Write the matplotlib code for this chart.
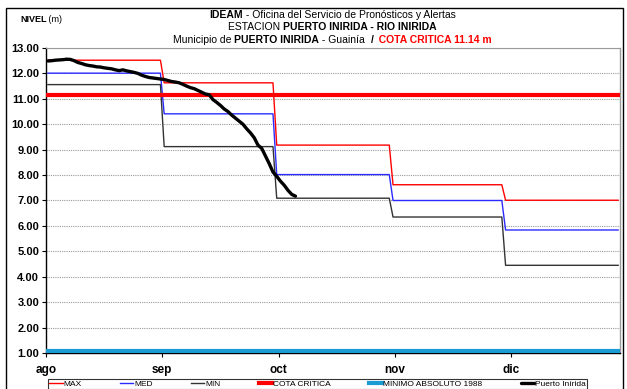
import numpy as np
import matplotlib
matplotlib.use("Agg")
import matplotlib.pyplot as plt
from matplotlib import font_manager
from matplotlib.offsetbox import TextArea, HPacker, AnchoredOffsetbox
from matplotlib.patches import Rectangle

# ---- data -------------------------------------------------------------
months = ["ago", "sep", "oct", "nov", "dic"]
days_in_month = [31, 30, 31, 30, 31]

nivel_max = [12.52, 11.63, 9.18, 7.62, 7.01]
nivel_med = [12.01, 10.41, 8.02, 7.00, 5.84]
nivel_min = [11.56, 9.12, 7.09, 6.35, 4.45]

cota_critica = 11.14
minimo_absoluto_1988 = 1.07

# daily observed levels, Puerto Inírida (from 1 Aug)
puerto_inirida = [
    12.49, 12.50, 12.52, 12.53, 12.54, 12.56, 12.55, 12.50, 12.43, 12.39,
    12.34, 12.31, 12.29, 12.26, 12.25, 12.22, 12.20, 12.18, 12.14, 12.11,
    12.14, 12.10, 12.07, 12.04, 12.00, 11.93, 11.88, 11.84, 11.82, 11.80,
    11.78, 11.76, 11.72, 11.68, 11.66, 11.63, 11.57, 11.50, 11.44, 11.40,
    11.33, 11.26, 11.19, 11.16, 10.97, 10.86, 10.74, 10.60, 10.50, 10.36,
    10.24, 10.12, 10.00, 9.82, 9.66, 9.47, 9.18, 9.05, 8.75, 8.45,
    8.12, 7.95, 7.76, 7.60, 7.40, 7.24, 7.17,
]

# ---- fonts ------------------------------------------------------------
available = {f.name for f in font_manager.fontManager.ttflist}
narrow = "Liberation Sans Narrow" if "Liberation Sans Narrow" in available else "Liberation Sans"
regular = "Liberation Sans"

# ---- figure -----------------------------------------------------------
W, H = 627, 389
fig = plt.figure(figsize=(W / 100, H / 100), dpi=100)
fig.patch.set_facecolor("white")

def fx(px):
    return px / W

def fy(py):
    return 1 - py / H

ax = fig.add_axes([fx(46), fy(353), fx(620) - fx(46), fy(48) - fy(353)])

n_days = sum(days_in_month)
day = np.arange(n_days)

ax.plot(day, np.repeat(nivel_max, days_in_month), color="#ff0000", lw=1.0, zorder=3, label="MAX")
ax.plot(day, np.repeat(nivel_med, days_in_month), color="#2b2bff", lw=1.0, zorder=3, label="MED")
ax.plot(day, np.repeat(nivel_min, days_in_month), color="#333333", lw=1.0, zorder=3, label="MIN")
ax.plot(day, np.full(n_days, cota_critica), color="#ff0000", lw=3.0, zorder=4, label="COTA CRITICA")
ax.plot(day, np.full(n_days, minimo_absoluto_1988), color="#1a9bd4", lw=3.0, zorder=4,
        label="MINIMO ABSOLUTO 1988")
ax.plot(np.arange(len(puerto_inirida)), puerto_inirida, color="black", lw=2.4, zorder=5,
        label="Puerto Inírida", solid_capstyle="round", solid_joinstyle="round")

ax.set_xlim(-0.5, n_days - 0.5)
ax.set_ylim(1.0, 13.0)

yt = np.arange(1, 14)
ax.set_yticks(yt)
ax.set_yticklabels([f"{v:.2f}" for v in yt], fontfamily=regular, fontweight="bold", fontsize=8)
tick_pos = [-0.5 + 31 * i for i in range(len(months))]
ax.set_xticks(tick_pos)
ax.set_xticklabels(months, fontfamily=regular, fontweight="bold", fontsize=8.5)
ax.tick_params(axis="y", direction="out", length=3, width=0.8, pad=2)
ax.tick_params(axis="x", direction="out", length=3, width=0.8, pad=5)

ax.grid(axis="y", color="#9a9a9a", lw=0.8, ls=(0, (1, 1)))
ax.set_axisbelow(True)
for side in ("left", "bottom"):
    ax.spines[side].set_color("black")
    ax.spines[side].set_linewidth(1.0)
ax.spines["top"].set_color("#9a9a9a")
ax.spines["top"].set_linewidth(0.8)
ax.spines["right"].set_color("#9a9a9a")
ax.spines["right"].set_linewidth(1.0)

# ---- outer frame ------------------------------------------------------
fig.add_artist(Rectangle((fx(6), -0.05), fx(623) - fx(6), fy(8) + 0.05,
                         transform=fig.transFigure, fill=False, ec="black", lw=1.0))

# ---- titles -----------------------------------------------------------
def line(parts, y, x=0.53):
    boxes = [TextArea(s, textprops=dict(fontfamily=narrow, fontsize=7.5, **kw)) for s, kw in parts]
    pack = HPacker(children=boxes, align="baseline", pad=0, sep=0)
    ab = AnchoredOffsetbox(loc="center", child=pack, pad=0, frameon=False,
                           bbox_to_anchor=(x, y), bbox_transform=fig.transFigure, borderpad=0)
    fig.add_artist(ab)

B = dict(fontweight="bold")
N = dict()
line([("IDEAM", B), (" - Oficina del Servicio de Pronósticos y Alertas", N)], fy(15))
line([("ESTACION ", N), ("PUERTO INIRIDA - RIO INIRIDA", B)], fy(27))
line([("Municipio de ", N), ("PUERTO INIRIDA", B), (" - Guainía  ", N), ("/", B),
      ("  COTA CRITICA 11.14 m", dict(fontweight="bold", color="#ff0000"))], fy(40))

nivel = HPacker(children=[TextArea("NIVEL", textprops=dict(fontfamily=narrow, fontsize=6.5, fontweight="bold")),
                          TextArea(" (m)", textprops=dict(fontfamily=narrow, fontsize=6.5))],
                align="baseline", pad=0, sep=0)
fig.add_artist(AnchoredOffsetbox(loc="center left", child=nivel, pad=0, frameon=False,
                                 bbox_to_anchor=(fx(20), fy(19)), bbox_transform=fig.transFigure,
                                 borderpad=0))

# ---- legend -----------------------------------------------------------
leg = fig.legend(loc="lower left", ncol=6, mode="expand",
                 bbox_to_anchor=(fx(48), fy(389), fx(587) - fx(48), fy(375) - fy(389)),
                 bbox_transform=fig.transFigure, borderaxespad=0, frameon=True, fancybox=False,
                 handlelength=1.6, handletextpad=0.1, borderpad=0.15,
                 prop=dict(family=narrow, size=6))
leg.get_frame().set_edgecolor("black")
leg.get_frame().set_linewidth(0.8)

fig.savefig("out.png", dpi=100, facecolor="white")
